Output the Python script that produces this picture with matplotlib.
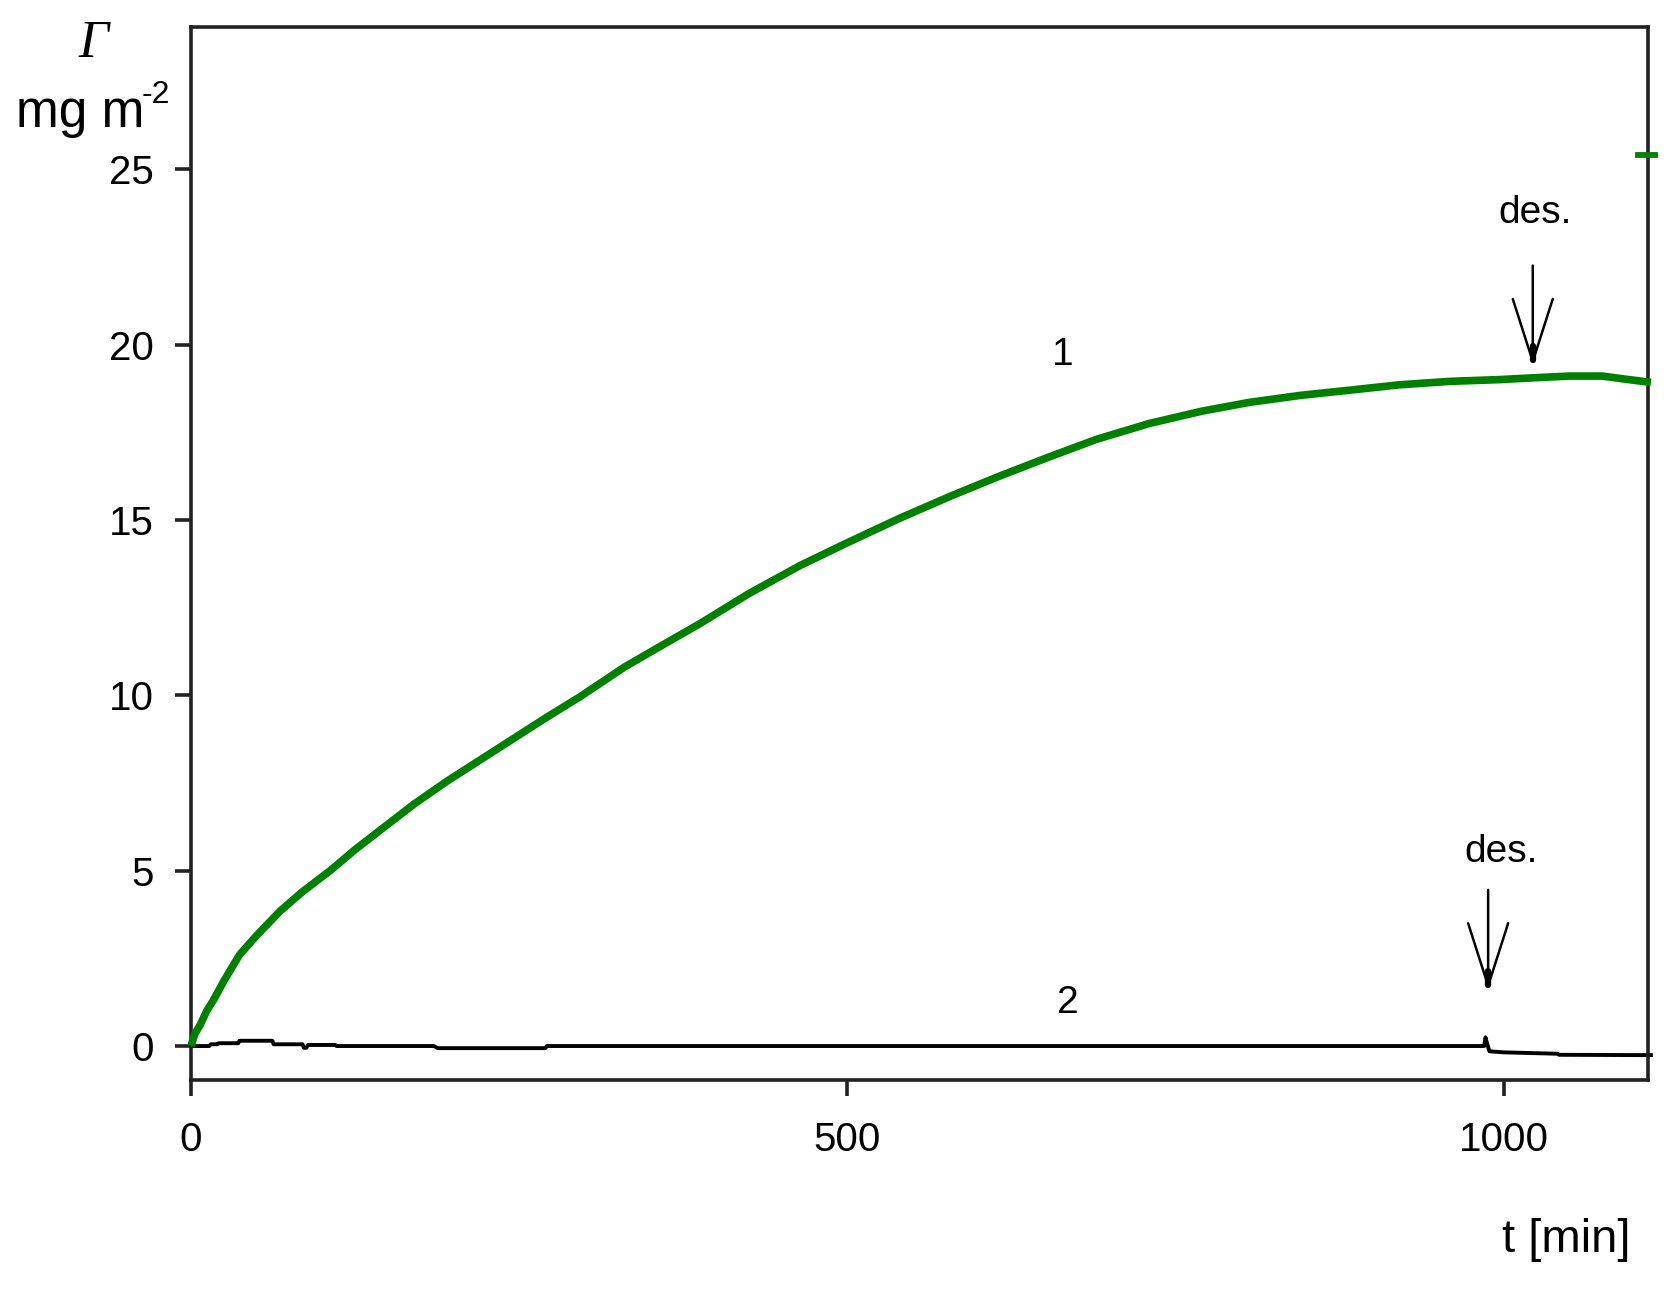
import matplotlib
matplotlib.use('Agg')
import matplotlib.pyplot as plt

plt.rcParams['font.family'] = ['Liberation Sans', 'DejaVu Sans']

# кривая 1 (адсорбция), зелёная
t1 = [0, 3, 7, 12, 17, 25, 37, 50, 68, 85, 106, 125, 144, 170, 195, 220, 245, 270,
      296, 330, 360, 388, 425, 464, 500, 540, 580, 616, 654, 690, 730, 770, 806, 845,
      883, 920, 959, 997, 1022, 1050, 1075, 1095, 1112]
g1 = [0, 0.35, 0.6, 1.0, 1.3, 1.85, 2.6, 3.15, 3.85, 4.4, 5.0, 5.6, 6.15, 6.9, 7.55,
      8.15, 8.75, 9.35, 9.95, 10.8, 11.45, 12.05, 12.9, 13.7, 14.35, 15.05, 15.7, 16.25,
      16.8, 17.3, 17.75, 18.1, 18.35, 18.55, 18.7, 18.85, 18.95, 19.0, 19.05, 19.1,
      19.1, 19.0, 18.92]
# одиночная точка у правого края
t1_spike = [1102, 1115]
g1_spike = [25.4, 25.4]

# кривая 2, чёрная
t2 = [0, 14, 15, 20, 21, 36, 37, 62, 63, 85, 86, 88, 89, 110, 111, 185, 188, 270,
      271, 985, 986, 987, 989, 1000, 1020, 1041, 1042, 1112]
g2 = [0, 0, 0.05, 0.05, 0.08, 0.08, 0.15, 0.15, 0.05, 0.05, -0.05, -0.05, 0.03, 0.03,
      0, 0, -0.06, -0.06, 0, 0, 0.25, 0.1, -0.15, -0.18, -0.2, -0.22, -0.25, -0.26]

# моменты десорбции
des_t = [1022, 988]
des_tip = [19.4, 1.6]

x_ticks = [0, 500, 1000]
y_ticks = [0, 5, 10, 15, 20, 25]

fig = plt.figure(figsize=(16.72, 12.89), dpi=100)
ax = fig.add_axes([0.1142, 0.1621, 0.9856 - 0.1142, 0.979 - 0.1621])

ax.plot(t2, g2, color='black', lw=2.8, zorder=2, clip_on=False)
ax.plot(t1, g1, color='#008000', lw=5.5, solid_capstyle='butt', solid_joinstyle='round',
        zorder=3, clip_on=False)
ax.plot(t1_spike, g1_spike, color='#008000', lw=4.2, clip_on=False, zorder=3)

ax.set_xlim(0, 1109.7)
ax.set_ylim(-0.97, 29.05)
ax.set_xticks(x_ticks)
ax.set_yticks(y_ticks)

for sp in ax.spines.values():
    sp.set_linewidth(2.6)
    sp.set_color('#222222')
ax.tick_params(axis='both', direction='out', length=11.5, width=2.6,
               color='#222222', labelsize=29)
ax.tick_params(axis='y', pad=15)
ax.tick_params(axis='x', pad=18)
ax.tick_params(top=False, right=False)

# подписи кривых
ax.text(664, 19.41, '1', fontsize=28, ha='center', va='baseline')
ax.text(668, 0.94, '2', fontsize=28, ha='center', va='baseline')

# стрелки "des."
ax.text(1023.6, 23.46, 'des.', fontsize=28, ha='center', va='baseline')
ax.text(997.7, 5.245, 'des.', fontsize=28, ha='center', va='baseline')
for t, tip in zip(des_t, des_tip):
    ax.annotate('', xy=(t, tip), xytext=(t, tip + 2.85),
                arrowprops=dict(arrowstyle='->,head_length=4.5,head_width=1.44',
                                lw=1.8, color='black', shrinkA=0, shrinkB=0,
                                mutation_scale=10))
    ax.plot([t, t], [tip + 0.15, tip + 0.55], color='black', lw=4.5,
            solid_capstyle='round', zorder=4)

# подписи осей
fig.text(0.0556, 0.9558, 'Γ', fontsize=38, family=['Liberation Serif', 'DejaVu Serif'],
         style='italic', ha='center', va='baseline')
fig.text(0.0096, 0.9015, 'mg m', fontsize=37, ha='left', va='baseline')
fig.text(0.0850, 0.920, '-2', fontsize=23, ha='left', va='baseline')
fig.text(0.975, 0.0287, 't [min]', fontsize=34, ha='right', va='baseline')

fig.savefig('out.png', dpi=100)
